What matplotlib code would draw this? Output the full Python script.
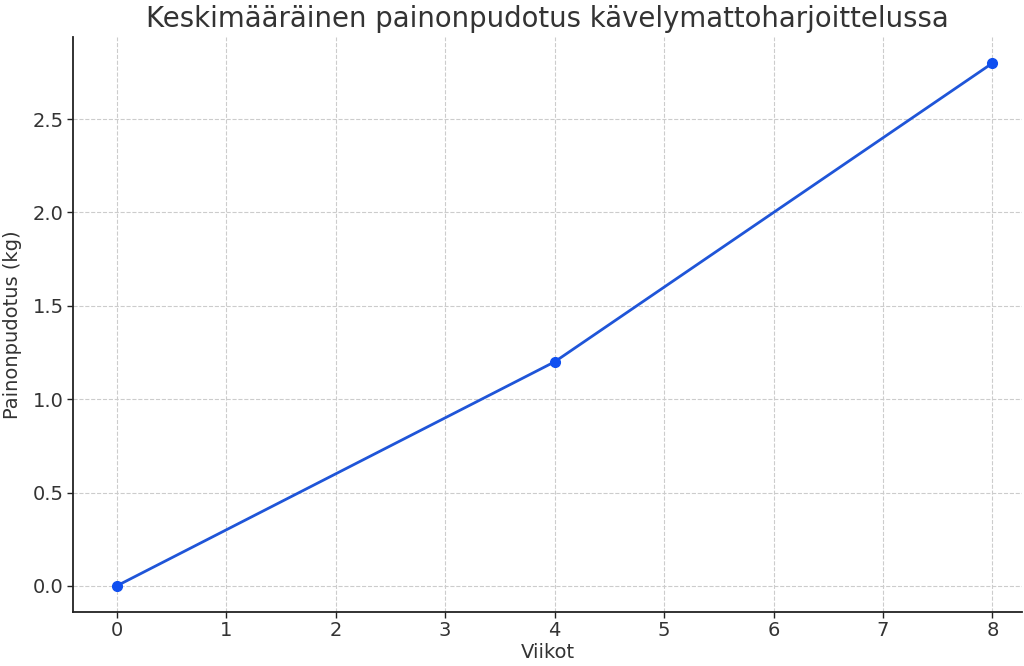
import matplotlib.pyplot as plt

# --- Data ---
weeks = [0, 4, 8]
weight_loss = [0.0, 1.2, 2.8]
x_ticks = [0, 1, 2, 3, 4, 5, 6, 7, 8]
y_ticks = [0.0, 0.5, 1.0, 1.5, 2.0, 2.5]

text_color = '#333333'
plt.rcParams['font.family'] = ['DejaVu Sans']

fig = plt.figure(figsize=(10.24, 6.66), dpi=100)
ax = fig.add_axes([73 / 1024, 1 - 612 / 666, (1022 - 73) / 1024, (612 - 37) / 666])

ax.plot(weeks, weight_loss, color='#1f55d8', linewidth=2, marker='o', markersize=7,
        markerfacecolor='#0f4ff0', markeredgecolor='#0f4ff0')

ax.set_xlim(-0.4, 8.27)
ax.set_ylim(-0.14, 2.94)
ax.set_xticks(x_ticks)
ax.set_yticks(y_ticks)
ax.set_yticklabels([f'{v:.1f}' for v in y_ticks])

ax.grid(True, linestyle='--', color='#cccccc', linewidth=0.8)
ax.set_axisbelow(True)

for s in ['top', 'right']:
    ax.spines[s].set_visible(False)
for s in ['left', 'bottom']:
    ax.spines[s].set_color('#222222')
    ax.spines[s].set_linewidth(1.3)

ax.tick_params(axis='both', labelsize=14, colors='#222222', labelcolor=text_color,
               length=4, width=1, pad=2.5)

ax.set_xlabel('Viikot', fontsize=14, color=text_color, labelpad=2)
ax.set_ylabel('Painonpudotus (kg)', fontsize=14, color=text_color, labelpad=8)
ax.set_title('Keskimääräinen painonpudotus kävelymattoharjoittelussa', fontsize=19.8,
             color=text_color, pad=7)

plt.savefig('out.png', dpi=100)
